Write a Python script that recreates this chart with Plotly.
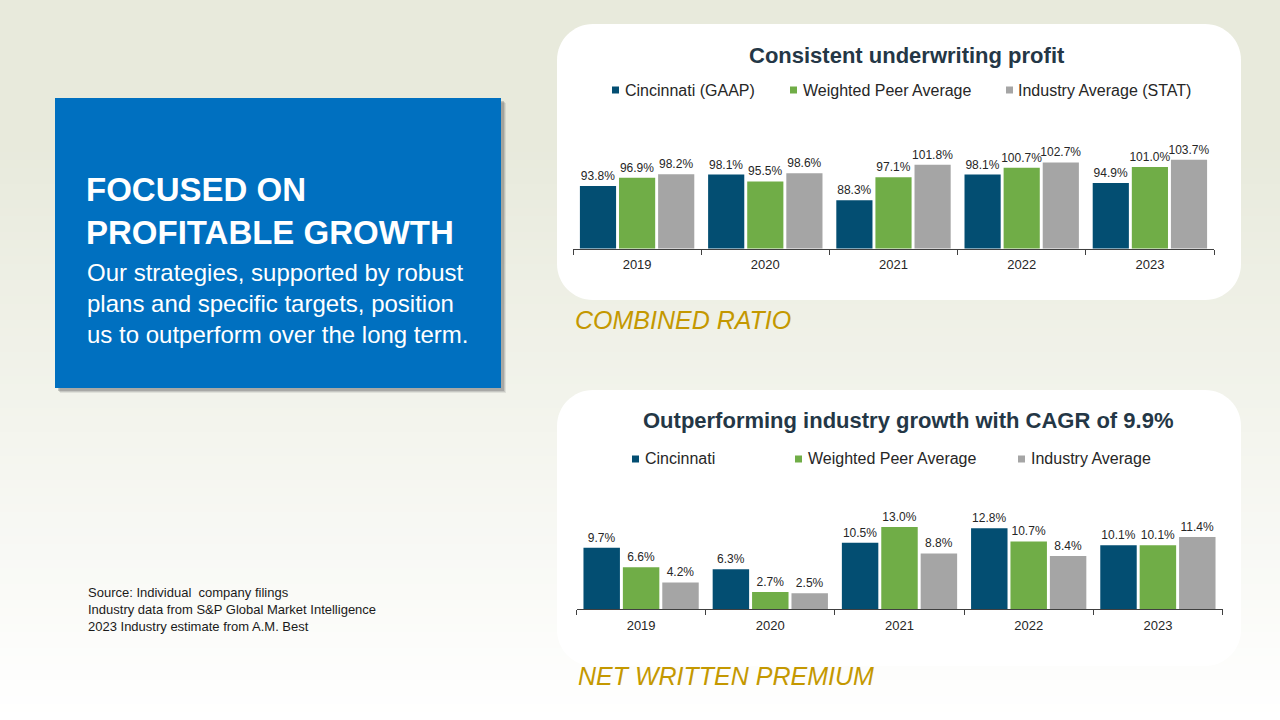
import plotly.graph_objects as go

# ---------------- data ----------------
years = ["2019", "2020", "2021", "2022", "2023"]

cr_series = ["Cincinnati (GAAP)", "Weighted Peer Average", "Industry Average (STAT)"]
cr_cincinnati = [93.8, 98.1, 88.3, 98.1, 94.9]
cr_peer = [96.9, 95.5, 97.1, 100.7, 101.0]
cr_industry = [98.2, 98.6, 101.8, 102.7, 103.7]

nwp_series = ["Cincinnati", "Weighted Peer Average", "Industry Average"]
nwp_cincinnati = [9.7, 6.3, 10.5, 12.8, 10.1]
nwp_peer = [6.6, 2.7, 13.0, 10.7, 10.1]
nwp_industry = [4.2, 2.5, 8.8, 8.4, 11.4]

colors = ["#034E72", "#70AD47", "#A5A5A5"]

W, H = 1280, 720
FONT = "Liberation Sans, Arial, sans-serif"


def X(px):
    return px / W


def Y(py):
    return 1 - py / H


def rr_path(x0, y0, x1, y1, r):
    k = 0.5523 * r
    pts = [
        ("M", [(x0 + r, y0)]),
        ("L", [(x1 - r, y0)]),
        ("C", [(x1 - r + k, y0), (x1, y0 + r - k), (x1, y0 + r)]),
        ("L", [(x1, y1 - r)]),
        ("C", [(x1, y1 - r + k), (x1 - r + k, y1), (x1 - r, y1)]),
        ("L", [(x0 + r, y1)]),
        ("C", [(x0 + r - k, y1), (x0, y1 - r + k), (x0, y1 - r)]),
        ("L", [(x0, y0 + r)]),
        ("C", [(x0, y0 + r - k), (x0 + r - k, y0), (x0 + r, y0)]),
    ]
    s = ""
    for cmd, ps in pts:
        s += cmd + " " + " ".join(f"{X(a):.5f},{Y(b):.5f}" for a, b in ps) + " "
    return s + "Z"


fig = go.Figure()

# top chart: combined ratio
for name, vals, col in zip(cr_series, [cr_cincinnati, cr_peer, cr_industry], colors):
    fig.add_trace(go.Bar(
        x=years, y=vals, name=name, marker=dict(color=col, line=dict(width=0)),
        texttemplate="%{y:.1f}%", textposition="outside", constraintext="none",
        textfont=dict(family=FONT, size=12, color="#262626"),
        xaxis="x", yaxis="y", showlegend=False, hoverinfo="skip",
    ))

# bottom chart: net written premium
for name, vals, col in zip(nwp_series, [nwp_cincinnati, nwp_peer, nwp_industry], colors):
    fig.add_trace(go.Bar(
        x=years, y=vals, name=name, marker=dict(color=col, line=dict(width=0)),
        texttemplate="%{y:.1f}%", textposition="outside", constraintext="none",
        textfont=dict(family=FONT, size=12, color="#262626"),
        xaxis="x2", yaxis="y2", showlegend=False, hoverinfo="skip",
    ))

# ---------------- background shapes ----------------
shapes = []
top_rgb = (232, 234, 220)
band = 8
for i in range(0, H, band):
    t = (i + band / 2) / H
    f = max(0.0, (t - 0.2) / 0.8)
    c = tuple(int(round(a + (255 - a) * f)) for a in top_rgb)
    shapes.append(dict(type="rect", xref="paper", yref="paper", layer="below",
                       x0=0, x1=1, y0=Y(i + band + 1), y1=Y(i),
                       fillcolor=f"rgb{c}", line=dict(width=0)))

# white rounded panels
for (x0, y0, x1, y1) in [(557, 24, 1241, 300), (557, 390, 1241, 666)]:
    shapes.append(dict(type="path", xref="paper", yref="paper", layer="below",
                       path=rr_path(x0, y0, x1, y1, 36),
                       fillcolor="white", line=dict(width=0)))

# blue box shadow + box
for off, op in [(5, 0.12), (4, 0.18), (3, 0.28)]:
    shapes.append(dict(type="rect", xref="paper", yref="paper", layer="below",
                       x0=X(55 + off), x1=X(501 + off), y0=Y(388 + off), y1=Y(98 + off),
                       fillcolor=f"rgba(90,90,90,{op})", line=dict(width=0)))
shapes.append(dict(type="rect", xref="paper", yref="paper", layer="below",
                   x0=X(55), x1=X(501), y0=Y(388), y1=Y(98),
                   fillcolor="#0070C0", line=dict(width=0)))

annotations = []


def add_legend(names, marker_x, text_x, yc):
    for name, mx, tx, col in zip(names, marker_x, text_x, colors):
        shapes.append(dict(type="rect", xref="paper", yref="paper",
                           x0=X(mx), x1=X(mx + 7), y0=Y(yc + 3.5), y1=Y(yc - 3.5),
                           fillcolor=col, line=dict(width=0)))
        annotations.append(dict(text=name, xref="paper", yref="paper", x=X(tx), y=Y(yc),
                                xanchor="left", yanchor="middle", showarrow=False,
                                font=dict(family=FONT, size=16, color="#262626")))


add_legend(cr_series, [612, 790, 1006], [623, 801, 1016], 90)
add_legend(nwp_series, [632, 795, 1018], [643, 806, 1029], 459)

# chart titles
annotations.append(dict(text="<b>Consistent underwriting profit</b>", xref="paper", yref="paper",
                        x=X(907), y=Y(56), xanchor="center", yanchor="middle", showarrow=False,
                        font=dict(family=FONT, size=22, color="#243746")))
annotations.append(dict(text="<b>Outperforming industry growth with CAGR of 9.9%</b>", xref="paper",
                        yref="paper", x=X(908), y=Y(420), xanchor="center", yanchor="middle",
                        showarrow=False, font=dict(family=FONT, size=22, color="#243746")))

# section labels
annotations.append(dict(text="<i>COMBINED RATIO</i>", xref="paper", yref="paper",
                        x=X(573), y=Y(320), xanchor="left", yanchor="middle", showarrow=False,
                        font=dict(family=FONT, size=25, color="#C49800")))
annotations.append(dict(text="<i>NET WRITTEN PREMIUM</i>", xref="paper", yref="paper",
                        x=X(576), y=Y(676), xanchor="left", yanchor="middle", showarrow=False,
                        font=dict(family=FONT, size=25, color="#C49800")))

# blue box text
annotations.append(dict(text="<b>FOCUSED ON<br>PROFITABLE GROWTH</b>", xref="paper", yref="paper",
                        x=X(84), y=Y(211), xanchor="left", yanchor="middle", showarrow=False,
                        align="left", font=dict(family=FONT, size=33, color="white")))
annotations.append(dict(text="Our strategies, supported by robust<br>plans and specific targets, position"
                             "<br>us to outperform over the long term.",
                        xref="paper", yref="paper", x=X(85), y=Y(303), xanchor="left",
                        yanchor="middle", showarrow=False, align="left",
                        font=dict(family=FONT, size=24, color="white")))

# source note
annotations.append(dict(text="Source: Individual  company filings<br>Industry data from S&amp;P Global Market "
                             "Intelligence<br>2023 Industry estimate from A.M. Best",
                        xref="paper", yref="paper", x=X(86), y=Y(609), xanchor="left",
                        yanchor="middle", showarrow=False, align="left",
                        font=dict(family=FONT, size=13, color="#1a1a1a")))

xaxis_common = dict(type="category", showgrid=False, zeroline=False, showline=True,
                    linecolor="#404040", linewidth=1, ticks="outside", tickson="boundaries",
                    ticklen=5, tickcolor="#404040", tickfont=dict(family=FONT, size=13, color="#262626"),
                    ticklabelstandoff=4, fixedrange=True)

fig.update_layout(
    width=W, height=H, margin=dict(l=0, r=0, t=0, b=0),
    paper_bgcolor="white", plot_bgcolor="rgba(0,0,0,0)",
    barmode="group",
    xaxis=dict(domain=[X(573), X(1214)], anchor="y", **xaxis_common),
    yaxis=dict(domain=[Y(248.5), Y(138)], range=[70, 112], visible=False, fixedrange=True),
    xaxis2=dict(domain=[X(576.5), X(1222.5)], anchor="y2", **xaxis_common),
    yaxis2=dict(domain=[Y(609), Y(508)], range=[0, 16], visible=False, fixedrange=True),
    bargap=0.085, bargroupgap=0.075,
    shapes=shapes, annotations=annotations,
    showlegend=False,
)

fig.write_html("out.html", config={"displayModeBar": False},
               post_script="document.body.style.margin='0';document.body.style.padding='0';")
